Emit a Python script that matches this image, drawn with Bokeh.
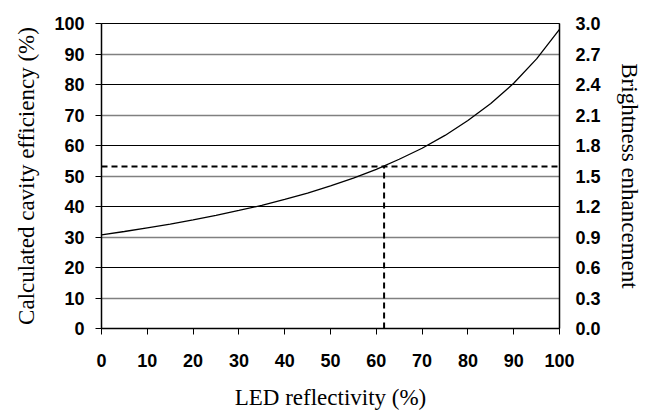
from bokeh.plotting import figure
from bokeh.models import Range1d, LinearAxis, FixedTicker, Grid, PrintfTickFormatter
from bokeh.embed import file_html
from bokeh.resources import INLINE

# Data
reflectivity = [0, 5, 10, 15, 20, 25, 30, 35, 40, 45, 50, 55, 60, 65, 70, 75, 80, 85, 90, 95, 100]
efficiency = [30.7, 31.8, 33.0, 34.2, 35.6, 37.1, 38.7, 40.4, 42.3, 44.4, 46.8, 49.3, 52.2,
              55.5, 59.1, 63.3, 68.2, 73.8, 80.4, 88.4, 98.1]
marker_reflectivity = 61.7
marker_efficiency = 53.1
x_ticks = [0, 10, 20, 30, 40, 50, 60, 70, 80, 90, 100]
left_ticks = [0, 10, 20, 30, 40, 50, 60, 70, 80, 90, 100]
right_ticks = [0.0, 0.3, 0.6, 0.9, 1.2, 1.5, 1.8, 2.1, 2.4, 2.7, 3.0]

TICK_FONT = "'Liberation Sans', Arial, sans-serif"
TITLE_FONT = "'Liberation Serif', 'Times New Roman', serif"

p = figure(width=650, height=414, output_backend="svg", toolbar_location=None,
           x_range=Range1d(0, 100), y_range=Range1d(0, 100),
           min_border_left=101, min_border_right=91, min_border_top=23, min_border_bottom=86)
p.extra_y_ranges = {"right": Range1d(0, 3.0)}
p.outline_line_color = "black"
p.outline_line_width = 1
p.background_fill_color = "white"
p.border_fill_color = "white"
p.xgrid.visible = False
p.ygrid.visible = False

# alternating grid lines
g_black = Grid(dimension=1, ticker=FixedTicker(ticks=[20, 40, 60, 80]), grid_line_color="black", grid_line_width=1)
g_gray = Grid(dimension=1, ticker=FixedTicker(ticks=[10, 30, 50, 70, 90]), grid_line_color="#808080", grid_line_width=1.5)
p.add_layout(g_gray)
p.add_layout(g_black)

def style_axis(ax):
    ax.major_label_text_font = TICK_FONT
    ax.major_label_text_font_style = "bold"
    ax.major_label_text_font_size = "18px"
    ax.major_label_text_color = "black"
    ax.axis_label_text_font = TITLE_FONT
    ax.axis_label_text_font_style = "normal"
    ax.axis_label_text_font_size = "23px"
    ax.axis_label_text_color = "black"
    ax.axis_line_color = "black"
    ax.axis_line_width = 1.5
    ax.minor_tick_line_color = None
    ax.major_tick_in = 0
    ax.major_tick_out = 6
    ax.major_tick_line_color = "black"

xa = p.xaxis[0]
style_axis(xa)
xa.ticker = FixedTicker(ticks=x_ticks)
xa.axis_label = "LED reflectivity (%)"
xa.major_label_standoff = 19
xa.axis_label_standoff = 15

ya = p.yaxis[0]
style_axis(ya)
ya.ticker = FixedTicker(ticks=left_ticks)
ya.axis_label = "Calculated cavity efficiency (%)"
ya.major_label_standoff = 11
ya.axis_label_standoff = 12

ra = LinearAxis(y_range_name="right", axis_label="Brightness enhancement")
style_axis(ra)
ra.ticker = FixedTicker(ticks=right_ticks)
ra.formatter = PrintfTickFormatter(format="%.1f")
ra.major_tick_out = 0
ra.major_label_standoff = 16
ra.axis_label_standoff = 13
p.add_layout(ra, "right")

p.line(reflectivity, efficiency, line_color="black", line_width=1.3)
p.line([0, 100], [marker_efficiency, marker_efficiency], line_color="black", line_width=2, line_dash="6 4")
p.line([marker_reflectivity, marker_reflectivity], [0, marker_efficiency], line_color="black", line_width=2, line_dash="6 4")

open("out.html", "w").write(file_html(p, INLINE))
